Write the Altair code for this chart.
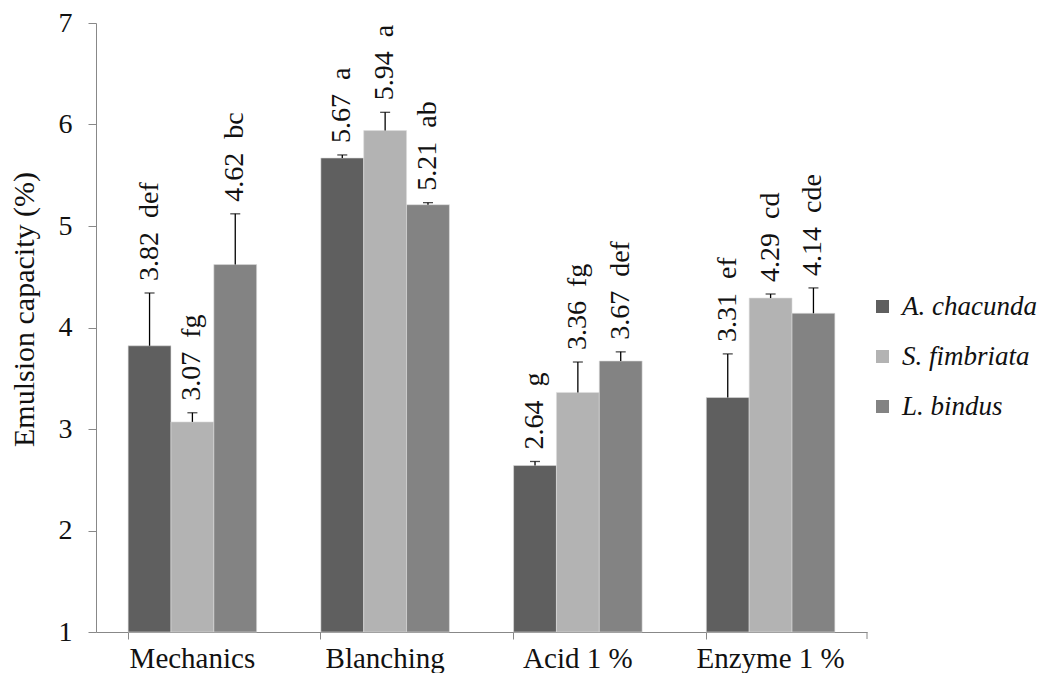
import altair as alt
import pandas as pd

treatments = ["Mechanics", "Blanching", "Acid 1 %", "Enzyme 1 %"]
species = ["A. chacunda", "S. fimbriata", "L. bindus"]
means = {
    "A. chacunda": [3.82, 5.67, 2.64, 3.31],
    "S. fimbriata": [3.07, 5.94, 3.36, 4.29],
    "L. bindus": [4.62, 5.21, 3.67, 4.14],
}
sds = {
    "A. chacunda": [0.52, 0.03, 0.04, 0.43],
    "S. fimbriata": [0.09, 0.18, 0.30, 0.04],
    "L. bindus": [0.50, 0.02, 0.09, 0.25],
}
letters = {
    "A. chacunda": ["def", "a", "g", "ef"],
    "S. fimbriata": ["fg", "a", "fg", "cd"],
    "L. bindus": ["bc", "ab", "def", "cde"],
}
colors = ["#5f5f5f", "#b3b3b3", "#838383"]

rows = []
for sp in species:
    for i, t in enumerate(treatments):
        m = means[sp][i]
        s = sds[sp][i]
        rows.append({
            "treatment": t,
            "species": sp,
            "mean": m,
            "top": m + s,
            "label": f"{m:.2f}\u00a0\u00a0{letters[sp][i]}",
        })
df = pd.DataFrame(rows)

FONT = "Liberation Serif, Times New Roman, Times, serif"
W, H = 771, 609

base = alt.Chart(df).encode(
    x=alt.X(
        "treatment:N",
        sort=treatments,
        scale=alt.Scale(paddingInner=0.333, paddingOuter=0.1667),
        axis=alt.Axis(
            title=None, labelAngle=0, labelFont=FONT, labelFontSize=29,
            labelColor="#111", domainColor="#888", tickColor="#888",
            tickSize=7, labelPadding=28, labelBaseline="alphabetic",
            bandPosition=0,
        ),
    ),
    xOffset=alt.XOffset("species:N", sort=species,
                        scale=alt.Scale(paddingInner=0, paddingOuter=0)),
)

yscale = alt.Scale(domain=[1, 7], nice=False, zero=False)

bars = base.mark_bar(stroke="#dddddd", strokeWidth=0.6).encode(
    y=alt.Y(
        "mean:Q",
        scale=yscale,
        axis=alt.Axis(
            values=[1, 2, 3, 4, 5, 6, 7], format="d", grid=False,
            labelFont=FONT, labelFontSize=28, labelColor="#111",
            domainColor="#888", tickColor="#888", tickSize=8, labelPadding=16,
            title="Emulsion capacity (%)", titleFont=FONT, titleFontSize=30,
            titleFontWeight="normal", titleColor="#111",
            titleAngle=270, titleAlign="center", titleBaseline="alphabetic",
            titleX=-63, titleY=286,
        ),
    ),
    y2=alt.datum(1),
    color=alt.Color(
        "species:N",
        sort=species,
        scale=alt.Scale(domain=species, range=colors),
        legend=alt.Legend(
            title=None, orient="none", legendX=773, legendY=270,
            symbolType="square", symbolSize=170, symbolStrokeWidth=0,
            labelFont=FONT, labelFontStyle="italic", labelFontSize=27,
            labelColor="#111", rowPadding=22, labelOffset=6, padding=0,
        ),
    ),
)

err = base.mark_rule(color="black", strokeWidth=1.3).encode(
    y=alt.Y("mean:Q", scale=yscale), y2="top:Q"
)
cap = base.mark_tick(color="black", thickness=1.3, size=10, orient="horizontal").encode(
    y=alt.Y("top:Q", scale=yscale)
)
text = base.mark_text(
    angle=270, align="left", baseline="middle", dx=12,
    font=FONT, fontSize=28, color="#111",
).encode(y=alt.Y("top:Q", scale=yscale), text="label:N")

endtick = alt.Chart(pd.DataFrame({"a": [0]})).mark_rule(color="#888").encode(
    x=alt.value(W), y=alt.value(H), y2=alt.value(H + 7)
)

chart = alt.layer(bars, err, cap, text, endtick).properties(
    width=W, height=H,
    autosize=alt.AutoSizeParams(type="none"),
    padding={"left": 88, "top": 15, "right": 176, "bottom": 41},
).configure_view(stroke=None)

chart.save("out.html", embed_options={"renderer": "svg", "actions": False})
